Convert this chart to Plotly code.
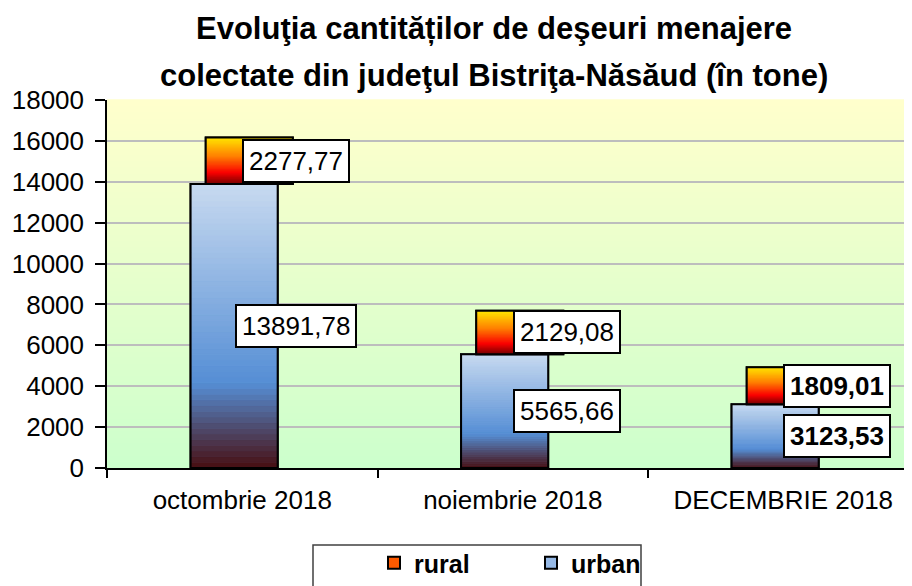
import plotly.graph_objects as go

# ---- data ----
categories = ["octombrie 2018", "noiembrie 2018", "DECEMBRIE 2018"]
urban = [13891.78, 5565.66, 3123.53]
rural = [2277.77, 2129.08, 1809.01]
urban_labels = ["13891,78", "5565,66", "3123,53"]
rural_labels = ["2277,77", "2129,08", "1809,01"]
y_ticks = [0, 2000, 4000, 6000, 8000, 10000, 12000, 14000, 16000, 18000]
title_lines = ["Evoluţia cantităților de deşeuri menajere",
               "colectate din judeţul Bistriţa-Năsăud (în tone)"]

FONT = "Liberation Sans, Arial, sans-serif"

# page body has an 8px margin: figure is drawn 8px right/down
W_FIG, H_FIG = 904, 578
L, T, B = 99, 92, 118
PLOT_H = H_FIG - T - B          # 368
PLOT_W = W_FIG - L              # 805

def py(ref_y):   # reference-pixel y -> paper y
    return (PLOT_H + T - (ref_y - 8)) / PLOT_H

def px(ref_x):   # reference-pixel x -> paper x
    return ((ref_x - 8) - L) / PLOT_W

# ---- style helpers ----
def lerp(c1, c2, t):
    return tuple(round(a + (b - a) * t) for a, b in zip(c1, c2))

def grad(stops, f):
    for (f1, c1), (f2, c2) in zip(stops, stops[1:]):
        if f <= f2:
            return lerp(c1, c2, (f - f1) / (f2 - f1) if f2 > f1 else 0)
    return stops[-1][1]

urban_stops = [(0.0, (72, 14, 16)), (0.3, (85, 142, 213)), (1.0, (200, 218, 240))]
rural_stops = [(0.0, (110, 0, 0)), (0.25, (250, 0, 0)), (0.6, (255, 128, 0)), (1.0, (255, 230, 0))]

W = 0.322
OFF_U = -0.191
OFF_R = -0.135
N = 50

fig = go.Figure()

def add_series(name, vals, bases, stops, off, legend_color, rank):
    fig.add_trace(go.Bar(
        name=name, x=categories, y=vals, base=bases, width=W, offset=off,
        marker=dict(color=legend_color, line=dict(color="black", width=2)),
        legendrank=rank, hoverinfo="skip"))
    xs, ys, bs, cs = [], [], [], []
    for c, v, b in zip(categories, vals, bases):
        for k in range(N):
            f = (k + 0.5) / N
            xs.append(c)
            ys.append(v / N)
            bs.append(b + v * k / N)
            r, g, bl = grad(stops, f)
            cs.append(f"rgb({r},{g},{bl})")
    fig.add_trace(go.Bar(
        x=xs, y=ys, base=bs, width=W, offset=off, showlegend=False,
        marker=dict(color=cs, line=dict(color=cs, width=0.8)), hoverinfo="skip"))
    fig.add_trace(go.Bar(
        x=categories, y=vals, base=bases, width=W, offset=off, showlegend=False,
        marker=dict(color="rgba(0,0,0,0)", line=dict(color="black", width=2)),
        hoverinfo="skip"))

add_series("urban", urban, [0, 0, 0], urban_stops, OFF_U, "rgb(150,185,230)", 2)
add_series("rural", rural, urban, rural_stops, OFF_R, "rgb(255,90,0)", 1)

# data labels
for i, c in enumerate(categories):
    bold = i == 2
    for val, base, lab in ((urban[i], 0, urban_labels[i]), (rural[i], urban[i], rural_labels[i])):
        fig.add_annotation(
            x=i + 0.2, y=base + val / 2, xref="x", yref="y",
            text=f"<b>{lab}</b>" if bold else lab, showarrow=False,
            font=dict(family=FONT, size=26, color="black"),
            bgcolor="white", bordercolor="black", borderwidth=2, borderpad=5,
            xanchor="center", yanchor="middle")

# title (two lines)
for line, ref_y in zip(title_lines, (28, 76)):
    fig.add_annotation(
        x=px(494), y=py(ref_y), xref="paper", yref="paper",
        text=f"<b>{line}</b>", showarrow=False,
        font=dict(family=FONT, size=31, color="black"),
        xanchor="center", yanchor="middle")

# background gradient of plot area
NB = 60
top_c, bot_c = (255, 255, 204), (204, 255, 204)
for k in range(NB):
    r, g, b = lerp(bot_c, top_c, (k + 0.5) / NB)
    fig.add_shape(type="rect", xref="x domain", yref="y domain",
                  x0=0, x1=1, y0=k / NB, y1=(k + 1) / NB + 0.002,
                  fillcolor=f"rgb({r},{g},{b})", line=dict(width=0), layer="below")

# legend frame
fig.add_shape(type="rect", xref="paper", yref="paper",
              x0=px(313), x1=px(641), y0=py(610), y1=py(545),
              line=dict(color="#404040", width=1.5), fillcolor="white", layer="above")

fig.update_layout(
    width=W_FIG, height=H_FIG,
    margin=dict(l=L, r=0, t=T, b=B, autoexpand=False),
    paper_bgcolor="white", plot_bgcolor="rgb(230,255,204)",
    barmode="overlay",
    font=dict(family=FONT, size=26, color="black"),
    showlegend=True,
    legend=dict(orientation="h", x=px(374), xanchor="left",
                y=py(540), yanchor="top",
                font=dict(family=FONT, size=25, color="black", weight="bold"),
                bgcolor="rgba(0,0,0,0)", borderwidth=0,
                entrywidth=112, entrywidthmode="pixels", traceorder="normal"),
)

fig.update_xaxes(type="category", range=[-0.5, 2.476], tickson="boundaries",
                 ticks="outside", ticklen=8, tickcolor="black", tickwidth=1.5,
                 showline=True, linecolor="black", linewidth=1.5,
                 showgrid=False, ticklabelstandoff=8,
                 tickfont=dict(family=FONT, size=26, color="black"))
fig.update_yaxes(range=[0, 18000], tickvals=y_ticks, tickformat="d",
                 ticks="outside", ticklen=10, tickcolor="black", tickwidth=1.5,
                 showline=True, linecolor="black", linewidth=1.5,
                 showgrid=True, gridcolor="#BDBDBD", gridwidth=1.5,
                 zeroline=False, ticklabelstandoff=6,
                 tickfont=dict(family=FONT, size=26, color="black"))

fig.write_html("out.html")
